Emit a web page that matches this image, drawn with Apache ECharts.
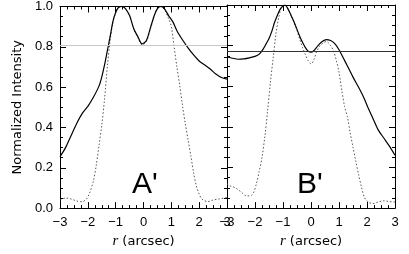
<!DOCTYPE html>
<html><head><meta charset="utf-8">
<script src="https://cdn.jsdelivr.net/npm/echarts@6/dist/echarts.min.js"></script>
<style>html,body{margin:0;padding:0;background:#fff;}#c{width:409px;height:254px;}</style>
</head><body><div id="c"></div>
<script>
// ---- data ----
const X_TICKS = [-3, -2, -1, 0, 1, 2, 3];
const Y_TICKS = [0.0, 0.2, 0.4, 0.6, 0.8, 1.0];

const A_SOLID_X = [-3.0,-2.8,-2.6,-2.4,-2.2,-2.0,-1.8,-1.6,-1.5,-1.4,-1.3,-1.2,-1.1,-1.0,-0.9,-0.78,-0.65,-0.5,-0.35,-0.2,-0.05,0.1,0.25,0.4,0.5,0.62,0.75,0.9,1.05,1.2,1.4,1.6,1.8,2.0,2.2,2.4,2.6,2.8,3.0];
const A_SOLID_Y = [0.255,0.30,0.36,0.42,0.47,0.505,0.55,0.605,0.65,0.71,0.78,0.85,0.925,0.97,0.995,1.0,0.99,0.955,0.89,0.85,0.815,0.83,0.895,0.96,0.99,1.0,0.99,0.955,0.925,0.88,0.835,0.795,0.76,0.73,0.71,0.69,0.665,0.648,0.64];

const A_DOT_X = [-3.0,-2.8,-2.6,-2.4,-2.2,-2.05,-1.95,-1.8,-1.7,-1.6,-1.5,-1.4,-1.3,-1.2,-1.1,-1.0,-0.9,-0.78,-0.65,-0.5,-0.35,-0.2,-0.05,0.1,0.25,0.4,0.5,0.62,0.75,0.9,1.0,1.1,1.2,1.3,1.4,1.5,1.6,1.7,1.8,1.9,2.0,2.1,2.3,2.5,2.7,2.9,3.0];
const A_DOT_Y = [0.04,0.05,0.045,0.035,0.032,0.045,0.07,0.135,0.21,0.31,0.41,0.54,0.70,0.83,0.92,0.97,0.995,1.0,0.99,0.955,0.89,0.845,0.81,0.825,0.89,0.96,0.99,1.0,0.985,0.94,0.90,0.80,0.70,0.61,0.51,0.42,0.34,0.26,0.175,0.11,0.07,0.045,0.032,0.04,0.045,0.05,0.052];

const B_SOLID_X = [-3.0,-2.8,-2.6,-2.4,-2.2,-2.0,-1.85,-1.7,-1.6,-1.5,-1.4,-1.3,-1.2,-1.1,-1.0,-0.93,-0.8,-0.7,-0.6,-0.5,-0.4,-0.3,-0.2,-0.1,0.0,0.1,0.25,0.4,0.55,0.7,0.85,1.0,1.15,1.3,1.5,1.7,1.9,2.05,2.2,2.4,2.6,2.8,3.0];
const B_SOLID_Y = [0.745,0.738,0.733,0.735,0.74,0.747,0.758,0.785,0.81,0.835,0.87,0.915,0.95,0.98,0.995,1.0,0.975,0.945,0.915,0.88,0.845,0.815,0.79,0.772,0.768,0.775,0.80,0.82,0.83,0.825,0.81,0.78,0.74,0.70,0.645,0.595,0.54,0.49,0.445,0.385,0.345,0.305,0.26];

const B_DOT_X = [-3.0,-2.9,-2.7,-2.5,-2.3,-2.1,-1.95,-1.85,-1.75,-1.65,-1.55,-1.45,-1.35,-1.25,-1.15,-1.05,-0.93,-0.8,-0.7,-0.6,-0.5,-0.4,-0.3,-0.2,-0.1,0.0,0.1,0.2,0.3,0.45,0.55,0.7,0.8,0.9,1.0,1.1,1.2,1.3,1.4,1.5,1.6,1.7,1.8,1.9,2.0,2.2,2.4,2.6,2.8,3.0];
const B_DOT_Y = [0.12,0.11,0.10,0.08,0.06,0.065,0.12,0.18,0.25,0.35,0.48,0.62,0.74,0.86,0.94,0.99,1.0,0.975,0.945,0.91,0.875,0.83,0.79,0.755,0.725,0.71,0.73,0.77,0.795,0.815,0.82,0.80,0.775,0.73,0.67,0.58,0.50,0.45,0.37,0.30,0.23,0.165,0.105,0.055,0.035,0.022,0.03,0.036,0.032,0.03];

const A_LEVEL = 0.814;
const B_LEVEL = 0.77;
const PANEL_LABELS = ["A'", "B'"];
const X_TITLE = ['r', ' (arcsec)'];
const Y_TITLE = 'Normalized Intensity';

// ---- build ----
const zip = (xs, ys) => xs.map((x, i) => [x, ys[i]]);
const FONT = 'Liberation Sans';
const fmtX = v => (v < 0 ? '\u2212' + Math.abs(v) : String(v));
const fmtY = v => v.toFixed(1);

function xAxis(grid, bottom) {
  return {
    type: 'value', gridIndex: grid, position: bottom ? 'bottom' : 'top',
    min: X_TICKS[0], max: X_TICKS[X_TICKS.length - 1], interval: 1,
    axisLine: { show: true, onZero: false, lineStyle: { color: '#000', width: 1 } },
    axisTick: { show: true, inside: true, length: 6, lineStyle: { color: '#000' } },
    minorTick: { show: true, splitNumber: 4, length: 3, lineStyle: { color: '#000' } },
    splitLine: { show: false },
    axisLabel: { show: bottom, formatter: fmtX, color: '#000', fontFamily: FONT, fontSize: 13, margin: 8, showMinLabel: true, showMaxLabel: true },
    name: bottom ? '{i|' + X_TITLE[0] + '}{n|' + X_TITLE[1] + '}' : '',
    nameLocation: 'middle', nameGap: 24,
    nameTextStyle: { rich: { i: { fontFamily: 'Liberation Serif', fontStyle: 'italic', fontSize: 15, color: '#000' }, n: { fontFamily: 'DejaVu Sans', fontSize: 13, color: '#000' } } }
  };
}
function yAxis(grid, left, labels) {
  return {
    type: 'value', gridIndex: grid, position: left ? 'left' : 'right',
    min: 0, max: 1.0, interval: 0.2,
    axisLine: { show: true, onZero: false, lineStyle: { color: '#000', width: 1 } },
    axisTick: { show: true, inside: true, length: 6, lineStyle: { color: '#000' } },
    minorTick: { show: true, splitNumber: 4, length: 3, lineStyle: { color: '#000' } },
    splitLine: { show: false },
    axisLabel: { show: labels, formatter: fmtY, color: '#000', fontFamily: FONT, fontSize: 13, margin: 7 },
    name: labels ? Y_TITLE : '', nameLocation: 'middle', nameGap: 36,
    nameTextStyle: { fontFamily: 'DejaVu Sans', fontSize: 13, color: '#000' }
  };
}
function lineSeries(grid, xs, ys, dotted, level, levelColor) {
  const s = {
    type: 'line', xAxisIndex: grid * 2, yAxisIndex: grid * 2, data: zip(xs, ys),
    smooth: 0.3, showSymbol: false, symbol: 'none', clip: true, z: dotted ? 3 : 4,
    lineStyle: dotted ? { color: '#555', width: 1, type: [1.5, 2] } : { color: '#000', width: 1.2 }
  };
  if (level !== undefined) {
    s.markLine = { silent: true, symbol: 'none', label: { show: false },
      lineStyle: { color: levelColor, width: 1, type: 'solid' }, data: [{ yAxis: level }] };
  }
  return s;
}

const chart = echarts.init(document.getElementById('c'), null, { renderer: 'canvas' });
chart.setOption({
  animation: false,
  backgroundColor: '#fff',
  grid: [
    { left: 60, top: 5, width: 167, height: 204 },
    { left: 227, top: 5, width: 168, height: 204 }
  ],
  xAxis: [xAxis(0, true), xAxis(0, false), xAxis(1, true), xAxis(1, false)],
  yAxis: [yAxis(0, true, true), yAxis(0, false, false), yAxis(1, true, false), yAxis(1, false, false)],
  series: [
    lineSeries(0, A_DOT_X, A_DOT_Y, true, A_LEVEL, '#c8c8c8'),
    lineSeries(0, A_SOLID_X, A_SOLID_Y, false),
    lineSeries(1, B_DOT_X, B_DOT_Y, true, B_LEVEL, '#333'),
    lineSeries(1, B_SOLID_X, B_SOLID_Y, false)
  ],
  graphic: [
    { type: 'text', left: 132, top: 170, style: { text: PANEL_LABELS[0], font: '30px "Liberation Sans"', fill: '#000' } },
    { type: 'text', left: 297, top: 170, style: { text: PANEL_LABELS[1], font: '30px "Liberation Sans"', fill: '#000' } }
  ]
});
</script></body></html>
